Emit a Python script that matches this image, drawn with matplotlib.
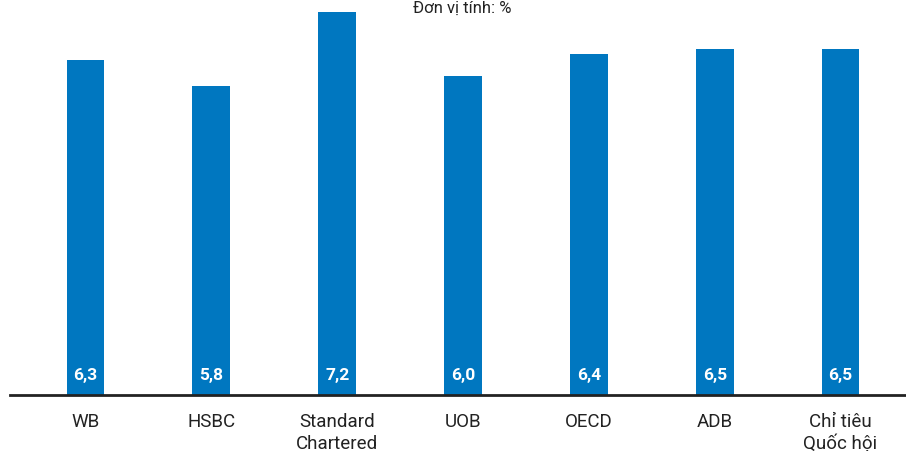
import matplotlib
matplotlib.use("Agg")
import matplotlib.pyplot as plt

categories = ["WB", "HSBC", "Standard\nChartered", "UOB", "OECD", "ADB", "Chỉ tiêu\nQuốc hội"]
values = [6.3, 5.8, 7.2, 6.0, 6.4, 6.5, 6.5]
value_labels = ["6,3", "5,8", "7,2", "6,0", "6,4", "6,5", "6,5"]
title = "Đơn vị tính: %"

plt.rcParams['font.family'] = ['Roboto', 'DejaVu Sans']

fig = plt.figure(figsize=(9.06, 4.52), dpi=100)
ax = fig.add_axes([10/906, 56/452, 896/906, 396/452])
x = list(range(len(categories)))
ax.bar(x, values, width=0.3, color="#0077C0")
ax.set_xlim(-0.6, 6.52)
ax.set_ylim(0, 7.44)
for xi, lab in zip(x, value_labels):
    ax.text(xi, 0.38, lab, ha="center", va="center", color="white",
            fontsize=12.5, fontweight="bold")
ax.set_xticks(x)
ax.set_xticklabels(categories, fontsize=13.5, color="#222222", linespacing=1.3)
ax.tick_params(axis="x", length=0, pad=12)
ax.set_yticks([])
for s in ["top", "left", "right"]:
    ax.spines[s].set_visible(False)
ax.spines["bottom"].set_linewidth(2)
ax.spines["bottom"].set_color("#222222")
fig.text(462/906, 1 - 1/452, title, ha="center", va="top", fontsize=12, color="#222222")
fig.savefig("out.png", dpi=100)
